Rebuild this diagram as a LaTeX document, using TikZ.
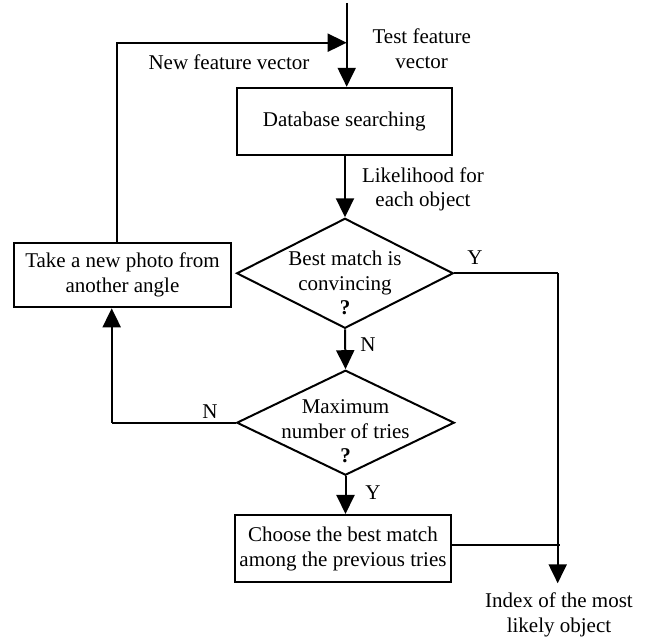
\documentclass[tikz,border=0pt]{standalone}
\usepackage{fontspec}
\setmainfont{Liberation Serif}
\usetikzlibrary{arrows.meta,shapes.geometric}
\begin{document}
\begin{tikzpicture}[x=1pt,y=-1pt,
  lw/.style={line width=2pt},
  arr/.style={lw,-{Triangle[length=19pt,width=18pt]}},
  txt/.style={align=center,inner sep=0pt,font=\fontsize{21}{24.5}\selectfont},
  boxnode/.style={draw,lw,rectangle,inner sep=0pt,align=center,font=\fontsize{21}{25}\selectfont},
  dia/.style={draw,lw,diamond,inner sep=0pt}]
\useasboundingbox (0,0) rectangle (649,639);
% nodes
\node[boxnode,minimum width=215pt,minimum height=67pt] (db) at (344.2,121.3) {Database searching};
\node[boxnode,minimum width=217pt,minimum height=64.6pt] (take) at (122.5,275) {Take a new photo from\\another angle};
\node[dia,minimum width=216.6pt,minimum height=110pt] (d1) at (345,273.3) {};
\node[txt] (d1t) at (345,283) {Best match is\\convincing\\\textbf{?}};
\node[dia,minimum width=217.6pt,minimum height=105pt] (d2) at (345.5,422.7) {};
\node[txt] (d2t) at (345.5,431.5) {Maximum\\number of tries\\\textbf{?}};
\node[boxnode,minimum width=216pt,minimum height=67pt] (choose) at (343,548.5) {Choose the best match\\among the previous tries};
% labels
\node[txt] (lnew) at (229,62) {New feature vector};
\node[txt] (ltest) at (421.7,48.5) {Test feature\\vector};
\node[txt] (llike) at (423,189.5) {Likelihood for\\each object};
\node[txt] (lindex) at (559,615) {Index of the most\\likely object};
\node[txt] (y1) at (475,258) {Y};
\node[txt] (n1) at (368,345) {N};
\node[txt] (n2) at (210,411.7) {N};
\node[txt] (y2) at (373,493) {Y};
% coordinates
\coordinate (top) at (346.7,3);
\coordinate (join) at (346.7,42.7);
\coordinate (fb) at (116.7,42.7);
\coordinate (upx) at (111.7,422.7);
\coordinate (rx) at (557.7,273.3);
\coordinate (out) at (557.7,583.3);
\coordinate (cend) at (560,545);
% connectors
\draw[arr] (top) -- (top |- db.north);
\draw[arr] (take.north -| fb) |- (join);
\draw[arr] (db.south -| d1.north) -- (d1.north);
\draw[lw] (d1.east) -- (rx);
\draw[arr] (rx) -- (out);
\draw[arr] (d1.south) -- (d2.north);
\draw[lw] (d2.west) -- (upx);
\draw[arr] (upx) -- (take.south -| upx);
\draw[arr] (d2.south) -- (d2.south |- choose.north);
\draw[lw] (choose.east |- cend) -- (cend);
\end{tikzpicture}
\end{document}
